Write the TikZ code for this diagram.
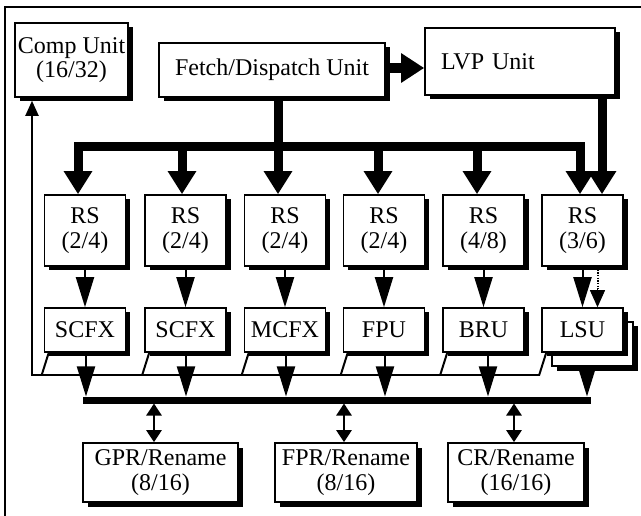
\documentclass[tikz,border=0pt]{standalone}
\usepackage{fontspec}
\setmainfont{Liberation Serif}
\usetikzlibrary{arrows.meta,shadows,calc}
\begin{document}
\begin{tikzpicture}[x=1pt,y=-1pt,
  blk/.style={draw, line width=1.6pt, fill=white, inner sep=0pt, align=center,
     font=\fontsize{24}{24.5}\selectfont,
     drop shadow={shadow xshift=4.5pt, shadow yshift=-4.5pt, fill=black, opacity=1}},
  rsbox/.style={blk, minimum width=81pt, minimum height=71pt},
  fubox/.style={blk, minimum width=81pt, minimum height=44pt},
  regbox/.style={blk, minimum height=59pt},
  busline/.style={line width=9pt},
  bigarr/.style={line width=9pt, -{Triangle[length=23pt,width=27pt]}},
  midarr/.style={line width=2pt, -{Triangle[length=30pt,width=18pt]}},
  dotline/.style={line width=2pt, dash pattern=on 1.5pt off 1.2pt},
  dothead/.style={line width=1pt, -{Triangle[length=17pt,width=15pt]}},
  thinline/.style={line width=2pt},
  fbarr/.style={line width=2pt, -{Triangle[length=15pt,width=13pt]}},
  dblarr/.style={line width=2.5pt, {Triangle[length=12pt,width=15pt]}-{Triangle[length=12pt,width=15pt]}}
]
\useasboundingbox (0,0) rectangle (641,516);
% frame
\draw[line width=1.5pt] (641,7) -- (5,7) -- (5,516);

% top units
\node[blk, minimum width=113pt, minimum height=74pt] (comp) at (71.5,60) {Comp Unit\\(16/32)};
\node[blk, minimum width=226pt, minimum height=54pt] (fd) at (272,70) {Fetch/Dispatch Unit};
\node[blk, minimum height=67pt, text width=158pt, inner xsep=16pt, align=left] (lvp) at (520,61.5) {LVP Unit};

% reservation stations
\node[rsbox] (rs1) at (85,230.5) {RS\\(2/4)};
\node[rsbox] (rs2) at (185.5,230.5) {RS\\(2/4)};
\node[rsbox] (rs3) at (285,230.5) {RS\\(2/4)};
\node[rsbox] (rs4) at (384,230.5) {RS\\(2/4)};
\node[rsbox] (rs5) at (483.5,230.5) {RS\\(4/8)};
\node[rsbox] (rs6) at (582.5,230.5) {RS\\(3/6)};

% functional units
\node[fubox] (fu1) at (85,330) {SCFX};
\node[fubox] (fu2) at (185.5,330) {SCFX};
\node[fubox] (fu3) at (285,330) {MCFX};
\node[fubox] (fu4) at (384,330) {FPU};
\node[fubox] (fu5) at (483.5,330) {BRU};
\node[fubox] (lsub) at (592.5,344) {};
\node[fubox] (fu6) at (582.5,330) {LSU};

% register files
\node[regbox, minimum width=155pt] (gpr) at (160.5,472.5) {GPR/Rename\\(8/16)};
\node[regbox, minimum width=142pt] (fpr) at (346,472.5) {FPR/Rename\\(8/16)};
\node[regbox, minimum width=136pt] (cr) at (516,472.5) {CR/Rename\\(16/16)};

% dispatch bus
\coordinate (b1) at (78,147);
\coordinate (b2) at (182,147);
\coordinate (b3) at (278,147);
\coordinate (b4) at (378,147);
\coordinate (b5) at (477,147);
\coordinate (b6) at (580,147);
\draw[busline] ([xshift=6pt]fd.south) -- ([xshift=6pt]fd.south |- b3);
\draw[busline, line cap=rect] (b1) -- (b6);
\foreach \i in {1,...,6} {
  \draw[bigarr] (b\i) -- (b\i |- rs\i.north);
}
\draw[bigarr] ([xshift=82pt]lvp.south) -- ([xshift=82pt]lvp.south |- rs6.north);
\draw[line width=10pt, -{Triangle[length=23pt,width=28pt]}] ([yshift=2pt]fd.east) -- ([yshift=2pt]fd.east -| lvp.west);

% RS -> FU
\foreach \i in {1,...,6} {
  \draw[midarr] (rs\i.south) -- (fu\i.north);
}
\coordinate (dtop) at ([xshift=15pt]rs6.south);
\coordinate (dend) at ([xshift=15pt]fu6.north);
\coordinate (dmid) at ([yshift=18pt]dend);
\draw[dotline] (dtop) -- (dmid);
\draw[dothead] (dmid) -- (dend);

% feedback path to Comp Unit
\coordinate (fbL) at (32,375);
\coordinate (fbR) at (540,375);
\coordinate (ct) at ([yshift=-3pt]comp.south);
\draw[fbarr] (fbR) -- (fbL) -- (fbL |- ct);
\foreach \i in {1,...,6} {
  \draw[thinline] ([xshift=5pt]fu\i.south west) -- ([xshift=-2pt]fu\i.south west |- fbL);
}

% result bus
\coordinate (rbL) at (83,400);
\coordinate (rbR) at (591,400);
\coordinate (rbtop) at (0,396.5);
\coordinate (rbbot) at (0,403.5);
\draw[line width=7pt] (rbL) -- (rbR);
\draw[midarr] ([xshift=1pt]fu1.south) -- ([xshift=1pt]fu1.south |- rbtop);
\draw[midarr] ([xshift=0.5pt]fu2.south) -- ([xshift=0.5pt]fu2.south |- rbtop);
\draw[midarr] ([xshift=1pt]fu3.south) -- ([xshift=1pt]fu3.south |- rbtop);
\draw[midarr] ([xshift=1pt]fu4.south) -- ([xshift=1pt]fu4.south |- rbtop);
\draw[midarr] ([xshift=4.5pt]fu5.south) -- ([xshift=4.5pt]fu5.south |- rbtop);
\draw[midarr] ([xshift=-5.5pt]lsub.south) -- ([xshift=-5.5pt]lsub.south |- rbtop);

% bus <-> register files
\draw[dblarr] ([xshift=-6.5pt]gpr.north |- rbbot) -- ([xshift=-6.5pt]gpr.north);
\draw[dblarr] ([xshift=-2pt]fpr.north |- rbbot) -- ([xshift=-2pt]fpr.north);
\draw[dblarr] ([xshift=-2pt]cr.north |- rbbot) -- ([xshift=-2pt]cr.north);
\end{tikzpicture}
\end{document}
